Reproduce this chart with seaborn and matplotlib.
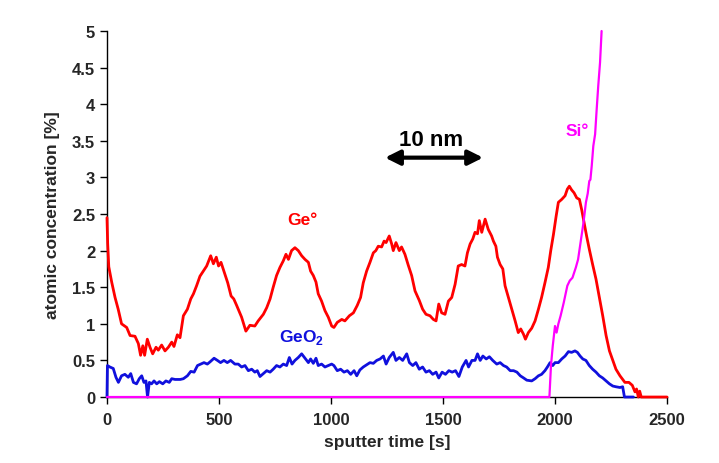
import pandas as pd
import matplotlib
matplotlib.use("Agg")
import matplotlib.pyplot as plt
import seaborn as sns

# sputter time [s] and atomic concentration [%]
ge_t = [0, 3, 8, 21, 36, 50, 65, 88, 103, 125, 140, 150, 160, 168, 180, 192, 204, 219, 229, 244,
        259, 274, 289, 299, 314, 326, 341, 359, 374, 386, 400, 415, 430, 445, 463, 475, 488, 498, 509, 524,
        539, 554, 566, 579, 601, 620, 638, 660, 675, 698, 713, 728, 742, 757, 772, 787, 799, 810, 824, 839,
        854, 869, 884, 899, 909, 921, 933, 943, 958, 973, 988, 1003, 1013, 1028, 1048, 1062, 1082, 1100, 1117, 1132,
        1144, 1159, 1174, 1189, 1200, 1211, 1226, 1237, 1246, 1260, 1271, 1278, 1290, 1305, 1315, 1330, 1345, 1360, 1375, 1394,
        1409, 1424, 1442, 1457, 1469, 1481, 1494, 1509, 1524, 1539, 1554, 1568, 1583, 1598, 1609, 1621, 1633, 1643, 1654, 1662,
        1673, 1688, 1702, 1717, 1725, 1736, 1743, 1755, 1767, 1777, 1792, 1807, 1822, 1836, 1847, 1859, 1868, 1881, 1896, 1911,
        1926, 1940, 1955, 1970, 1981, 1993, 2005, 2015, 2030, 2045, 2055, 2064, 2074, 2085, 2097, 2109, 2119, 2130, 2141, 2153,
        2168, 2183, 2198, 2213, 2228, 2243, 2258, 2272, 2290, 2312, 2330, 2345, 2357, 2364, 2372, 2378, 2385, 2500]
ge_v = [2.45, 2.10, 1.78, 1.57, 1.36, 1.20, 1.00, 0.95, 0.84, 0.83, 0.73, 0.57, 0.70, 0.57, 0.79, 0.68, 0.59, 0.68, 0.64, 0.71,
        0.63, 0.68, 0.75, 0.69, 0.85, 0.81, 1.11, 1.20, 1.34, 1.41, 1.52, 1.65, 1.72, 1.79, 1.93, 1.82, 1.91, 1.79, 1.84, 1.70,
        1.56, 1.38, 1.34, 1.25, 1.09, 0.90, 0.98, 0.97, 1.04, 1.13, 1.22, 1.34, 1.50, 1.66, 1.77, 1.86, 1.95, 1.88, 2.00, 2.04,
        2.00, 1.93, 1.88, 1.84, 1.72, 1.66, 1.57, 1.41, 1.31, 1.18, 1.09, 0.97, 0.95, 1.02, 1.06, 1.04, 1.11, 1.15, 1.25, 1.36,
        1.56, 1.72, 1.84, 1.97, 2.00, 2.06, 2.05, 2.13, 2.11, 2.20, 2.09, 2.00, 2.11, 2.00, 2.05, 1.95, 1.80, 1.66, 1.45, 1.32,
        1.20, 1.13, 1.11, 1.06, 1.04, 1.27, 1.15, 1.13, 1.31, 1.36, 1.54, 1.79, 1.81, 1.79, 1.97, 2.09, 2.16, 2.25, 2.23, 2.41,
        2.25, 2.43, 2.29, 2.20, 2.13, 2.06, 1.91, 1.81, 1.75, 1.52, 1.36, 1.20, 1.04, 0.88, 0.93, 0.86, 0.79, 0.88, 0.94, 1.04,
        1.20, 1.36, 1.56, 1.77, 2.00, 2.22, 2.47, 2.66, 2.70, 2.75, 2.84, 2.88, 2.83, 2.79, 2.72, 2.70, 2.56, 2.38, 2.20, 2.02,
        1.81, 1.61, 1.36, 1.11, 0.84, 0.63, 0.50, 0.38, 0.29, 0.20, 0.20, 0.16, 0.07, 0.11, 0.00, 0.08, 0.00, 0.00]

geo2_t = [0, 2, 13, 28, 40, 51, 65, 80, 95, 106, 118, 132, 144, 155, 165, 174, 181, 189, 199, 210,
          222, 234, 249, 263, 278, 289, 304, 327, 341, 359, 374, 389, 404, 418, 433, 448, 460, 478, 493, 507,
          522, 537, 552, 571, 586, 601, 616, 631, 646, 660, 671, 683, 698, 713, 728, 742, 757, 772, 787, 802,
          814, 826, 839, 854, 869, 884, 899, 909, 921, 933, 943, 958, 973, 988, 1003, 1013, 1028, 1043, 1058, 1073,
          1088, 1103, 1115, 1129, 1144, 1159, 1174, 1189, 1204, 1219, 1234, 1246, 1260, 1278, 1290, 1305, 1320, 1338, 1350, 1365,
          1379, 1394, 1409, 1424, 1439, 1454, 1469, 1481, 1496, 1511, 1526, 1541, 1556, 1571, 1586, 1603, 1614, 1629, 1643, 1654,
          1666, 1678, 1693, 1707, 1722, 1740, 1755, 1770, 1784, 1800, 1815, 1830, 1845, 1860, 1874, 1896, 1911, 1926, 1940, 1955,
          1966, 1978, 1990, 2000, 2015, 2030, 2045, 2060, 2074, 2089, 2100, 2112, 2124, 2138, 2153, 2168, 2183, 2198, 2213, 2228,
          2243, 2258, 2272, 2290, 2302, 2310, 2350]
geo2_v = [0.00, 0.43, 0.41, 0.39, 0.27, 0.20, 0.29, 0.31, 0.27, 0.32, 0.20, 0.18, 0.25, 0.29, 0.20, 0.22, 0.00, 0.20, 0.18, 0.22,
          0.18, 0.21, 0.18, 0.22, 0.20, 0.25, 0.24, 0.24, 0.25, 0.29, 0.35, 0.34, 0.43, 0.45, 0.47, 0.45, 0.48, 0.53, 0.50, 0.47,
          0.50, 0.47, 0.50, 0.45, 0.45, 0.41, 0.43, 0.36, 0.38, 0.34, 0.36, 0.28, 0.32, 0.36, 0.34, 0.38, 0.43, 0.41, 0.45, 0.43,
          0.54, 0.45, 0.50, 0.54, 0.59, 0.53, 0.47, 0.52, 0.46, 0.53, 0.43, 0.45, 0.41, 0.43, 0.45, 0.43, 0.36, 0.38, 0.34, 0.36,
          0.31, 0.36, 0.29, 0.37, 0.41, 0.44, 0.47, 0.46, 0.50, 0.52, 0.56, 0.45, 0.54, 0.61, 0.50, 0.54, 0.50, 0.59, 0.47, 0.43,
          0.47, 0.38, 0.41, 0.34, 0.36, 0.31, 0.34, 0.26, 0.34, 0.31, 0.36, 0.34, 0.36, 0.28, 0.41, 0.50, 0.41, 0.50, 0.50, 0.59,
          0.50, 0.56, 0.52, 0.55, 0.50, 0.45, 0.47, 0.43, 0.41, 0.36, 0.36, 0.34, 0.29, 0.26, 0.23, 0.22, 0.25, 0.29, 0.31, 0.36,
          0.41, 0.47, 0.43, 0.47, 0.47, 0.52, 0.56, 0.62, 0.61, 0.63, 0.61, 0.56, 0.52, 0.50, 0.43, 0.38, 0.34, 0.29, 0.26, 0.22,
          0.18, 0.15, 0.14, 0.13, 0.14, 0.00, 0.00]

si_t = [0, 1975, 1982, 1990, 2000, 2007, 2015, 2025, 2039, 2055, 2066, 2078, 2093, 2103, 2114, 2127, 2138, 2146,
        2153, 2158, 2164, 2171, 2179, 2186, 2193, 2201, 2208]
si_v = [0.00, 0.00, 0.43, 0.70, 0.97, 0.88, 1.00, 1.11, 1.29, 1.52, 1.59, 1.63, 1.77, 1.88, 2.11, 2.38, 2.66, 2.78,
        2.95, 2.97, 3.16, 3.43, 3.59, 3.93, 4.25, 4.57, 5.00]

x_ticks = [0, 500, 1000, 1500, 2000, 2500]
y_ticks = [0, 0.5, 1, 1.5, 2, 2.5, 3, 3.5, 4, 4.5, 5]
y_tick_labels = ["0", "0.5", "1", "1.5", "2", "2.5", "3", "3.5", "4", "4.5", "5"]

ge = pd.DataFrame({"t": ge_t, "v": ge_v})
geo2 = pd.DataFrame({"t": geo2_t, "v": geo2_v})
si = pd.DataFrame({"t": si_t, "v": si_v})

sns.set_style("ticks")
plt.rcParams["font.family"] = ["Liberation Sans", "DejaVu Sans"]
plt.rcParams["font.weight"] = "bold"
plt.rcParams["mathtext.fontset"] = "custom"
plt.rcParams["mathtext.rm"] = "Liberation Sans:bold"
plt.rcParams["mathtext.bf"] = "Liberation Sans:bold"

RED = "#ff0000"
BLUE = "#1010dd"
MAGENTA = "#ff00ff"

fig = plt.figure(figsize=(7.19, 4.64), dpi=100)
ax = fig.add_axes([0.1488, 0.1422, 0.7789, 0.7888])

sns.lineplot(data=ge, x="t", y="v", color=RED, linewidth=2, estimator=None, sort=False, ax=ax)
sns.lineplot(data=geo2, x="t", y="v", color=BLUE, linewidth=2, estimator=None, sort=False, ax=ax)
sns.lineplot(data=si, x="t", y="v", color=MAGENTA, linewidth=1.6, estimator=None, sort=False, ax=ax)
for ln in ax.lines:
    ln.set_clip_on(False)
    ln.set_zorder(3)

ax.set_xlim(0, 2500)
ax.set_ylim(0, 5)
ax.set_xticks(x_ticks)
ax.set_yticks(y_ticks)
ax.set_yticklabels(y_tick_labels)
ax.tick_params(axis="both", labelsize=12, length=5, width=1, color="black")
ax.tick_params(axis="x", pad=6)
ax.tick_params(axis="y", pad=3.5)
for lab in ax.get_xticklabels() + ax.get_yticklabels():
    lab.set_fontweight("bold")

ax.set_xlabel("sputter time [s]", fontsize=12.5, fontweight="bold", labelpad=5)
ax.set_ylabel("atomic concentration [%]", fontsize=12.5, fontweight="bold", labelpad=9)
sns.despine(ax=ax)
for sp in ["left", "bottom"]:
    ax.spines[sp].set_color("black")
    ax.spines[sp].set_linewidth(1)

ax.text(870, 2.43, "Ge°", color=RED, fontsize=12.5, fontweight="bold", ha="center", va="center")
ax.text(870, 0.82, r"GeO$_{\mathbf{2}}$", color=BLUE, fontsize=12.5, fontweight="bold", ha="center", va="center")
ax.text(2098, 3.64, "Si°", color=MAGENTA, fontsize=12.5, fontweight="bold", ha="center", va="center")
ax.text(1447, 3.52, "10 nm", color="black", fontsize=16, fontweight="bold", ha="center", va="center")
ax.annotate("", xy=(1241, 3.27), xytext=(1679, 3.27),
            arrowprops=dict(arrowstyle="<|-|>", color="black", lw=3, mutation_scale=22,
                            shrinkA=0, shrinkB=0))

fig.savefig("out.png", dpi=100)
